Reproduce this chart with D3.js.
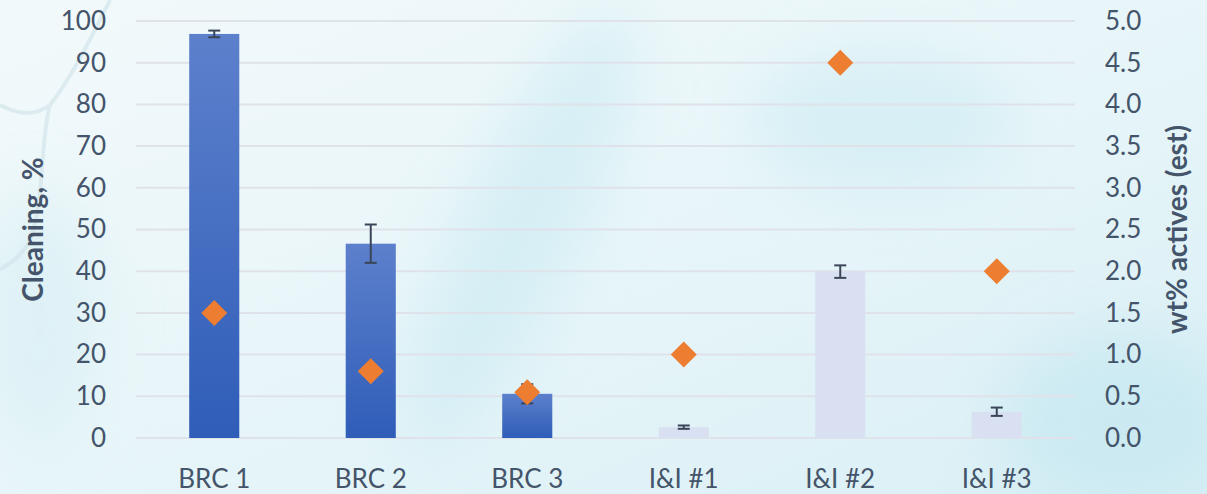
<!DOCTYPE html>
<html>
<head>
<meta charset="utf-8">
<script src="https://cdn.jsdelivr.net/npm/d3@7"></script>
<style>
  body { margin: 0; background: #eaf6fa; }
  svg { display: block; font-family: Lato, "Open Sans", sans-serif; }
</style>
</head>
<body>
<svg width="1207" height="494"></svg>
<script>
'use strict';
// data
var categories = ["BRC 1", "BRC 2", "BRC 3", "I&I #1", "I&I #2", "I&I #3"];
var cleaning = [96.9, 46.6, 10.6, 2.6, 39.9, 6.3];
var cleaningErr = [0.8, 4.6, 2.3, 0.4, 1.5, 1.0];
var actives = [1.5, 0.8, 0.55, 1.0, 4.5, 2.0];
var leftTicks = [0, 10, 20, 30, 40, 50, 60, 70, 80, 90, 100];
var rightTicks = [0, 0.5, 1, 1.5, 2, 2.5, 3, 3.5, 4, 4.5, 5];

var svg = d3.select("svg"),
    margin = {top: 21, right: 132, bottom: 56, left: 136},
    width = +svg.attr("width") - margin.left - margin.right,
    height = +svg.attr("height") - margin.top - margin.bottom;

var textColor = "#44546a";

// background, roughly the pale blue photo behind the chart
var defs = svg.append("defs");
var bg = defs.append("linearGradient").attr("id", "bg")
    .attr("x1", 0).attr("y1", 0).attr("x2", 1).attr("y2", 1);
bg.append("stop").attr("offset", "0%").attr("stop-color", "#f2f9fb");
bg.append("stop").attr("offset", "45%").attr("stop-color", "#e9f6f9");
bg.append("stop").attr("offset", "100%").attr("stop-color", "#d9eff5");
defs.append("filter").attr("id", "blur")
    .append("feGaussianBlur").attr("stdDeviation", 30);
var barGrad = defs.append("linearGradient").attr("id", "barGrad")
    .attr("x1", 0).attr("y1", 0).attr("x2", 0).attr("y2", 1);
barGrad.append("stop").attr("offset", "0%").attr("stop-color", "#5d80cc");
barGrad.append("stop").attr("offset", "100%").attr("stop-color", "#2f5db8");

svg.append("rect").attr("width", 1207).attr("height", 494).attr("fill", "url(#bg)");
var blobs = svg.append("g").attr("filter", "url(#blur)").attr("opacity", 0.55);
blobs.append("ellipse").attr("cx", 520).attr("cy", 230).attr("rx", 60).attr("ry", 240)
    .attr("transform", "rotate(25,520,230)").attr("fill", "#c6e9f1");
blobs.append("ellipse").attr("cx", 880).attr("cy", 120).attr("rx", 130).attr("ry", 70)
    .attr("fill", "#c9eaf2");
blobs.append("ellipse").attr("cx", 1120).attr("cy", 420).attr("rx", 120).attr("ry", 90)
    .attr("fill", "#bfe5ef");
blobs.append("ellipse").attr("cx", 40).attr("cy", 320).attr("rx", 60).attr("ry", 130)
    .attr("fill", "#d4edf3");
// faint branching lines on the left
var veins = svg.append("g").attr("fill", "none").attr("stroke", "#cfe3e8")
    .attr("stroke-width", 4).attr("opacity", 0.6);
veins.append("path").attr("d", "M110,0 C90,40 70,80 50,105 C30,120 10,110 0,105");
veins.append("path").attr("d", "M50,105 C40,140 45,200 30,240 C20,260 5,265 0,270");

var g = svg.append("g")
    .attr("transform", "translate(" + margin.left + "," + margin.top + ")");

var x = d3.scaleBand().domain(categories).range([0, width]).padding(0),
    y = d3.scaleLinear().domain([0, 100]).range([height, 0]),
    y2 = d3.scaleLinear().domain([0, 5]).range([height, 0]);

var barW = x.bandwidth() * 0.32;

// gridlines
g.selectAll(".grid")
  .data(leftTicks)
  .enter().append("line")
    .attr("x1", 0).attr("x2", width)
    .attr("y1", function(d) { return y(d); })
    .attr("y2", function(d) { return y(d); })
    .attr("stroke", "#e0e2ea")
    .attr("stroke-width", 2);

// left axis
var yAxis = g.append("g")
    .call(d3.axisLeft(y).tickValues(leftTicks).tickSize(0).tickPadding(30));
yAxis.select(".domain").remove();
yAxis.selectAll("text").attr("fill", textColor).style("font-size", "26px")
    .style("font-family", "Lato, sans-serif");

// right axis
var y2Axis = g.append("g")
    .attr("transform", "translate(" + width + ",0)")
    .call(d3.axisRight(y2).tickValues(rightTicks).tickFormat(d3.format(".1f")).tickSize(0).tickPadding(30));
y2Axis.select(".domain").remove();
y2Axis.selectAll("text").attr("fill", textColor).style("font-size", "26px")
    .style("font-family", "Lato, sans-serif");

// x axis labels
var xAxis = g.append("g")
    .attr("transform", "translate(0," + height + ")")
    .call(d3.axisBottom(x).tickSize(0).tickPadding(32));
xAxis.select(".domain").remove();
xAxis.selectAll("text").attr("fill", textColor).style("font-size", "26px")
    .style("font-family", "Lato, sans-serif");

// axis titles
svg.append("text")
    .attr("transform", "translate(43," + (margin.top + height / 2) + ") rotate(-90)")
    .attr("text-anchor", "middle")
    .attr("fill", textColor)
    .style("font-size", "28px").style("font-weight", "bold")
    .text("Cleaning, %");
svg.append("text")
    .attr("transform", "translate(1187," + (margin.top + height / 2) + ") rotate(-90)")
    .attr("text-anchor", "middle")
    .attr("fill", textColor)
    .style("font-size", "28px").style("font-weight", "bold")
    .text("wt% actives (est)");

// bars
g.selectAll(".bar")
  .data(categories)
  .enter().append("rect")
    .attr("class", "bar")
    .attr("x", function(d) { return x(d) + x.bandwidth() / 2 - barW / 2; })
    .attr("y", function(d, i) { return y(cleaning[i]); })
    .attr("width", barW)
    .attr("height", function(d, i) { return height - y(cleaning[i]); })
    .attr("fill", function(d, i) { return i < 3 ? "url(#barGrad)" : "#d9e0f2"; });

// error bars
var err = g.selectAll(".err")
  .data(categories)
  .enter().append("g")
    .attr("class", "err")
    .attr("stroke", "#3a4658")
    .attr("stroke-width", 2);
err.append("line")
    .attr("x1", function(d) { return x(d) + x.bandwidth() / 2; })
    .attr("x2", function(d) { return x(d) + x.bandwidth() / 2; })
    .attr("y1", function(d, i) { return y(cleaning[i] + cleaningErr[i]); })
    .attr("y2", function(d, i) { return y(cleaning[i] - cleaningErr[i]); });
[1, -1].forEach(function(s) {
  err.append("line")
    .attr("x1", function(d) { return x(d) + x.bandwidth() / 2 - 6; })
    .attr("x2", function(d) { return x(d) + x.bandwidth() / 2 + 6; })
    .attr("y1", function(d, i) { return y(cleaning[i] + s * cleaningErr[i]); })
    .attr("y2", function(d, i) { return y(cleaning[i] + s * cleaningErr[i]); });
});

// diamonds on the right axis
g.selectAll(".pt")
  .data(categories)
  .enter().append("path")
    .attr("class", "pt")
    .attr("d", "M0,-13L13,0L0,13L-13,0Z")
    .attr("transform", function(d, i) {
      return "translate(" + (x(d) + x.bandwidth() / 2) + "," + y2(actives[i]) + ")";
    })
    .attr("fill", "#ed7d31");
</script>
</body>
</html>
